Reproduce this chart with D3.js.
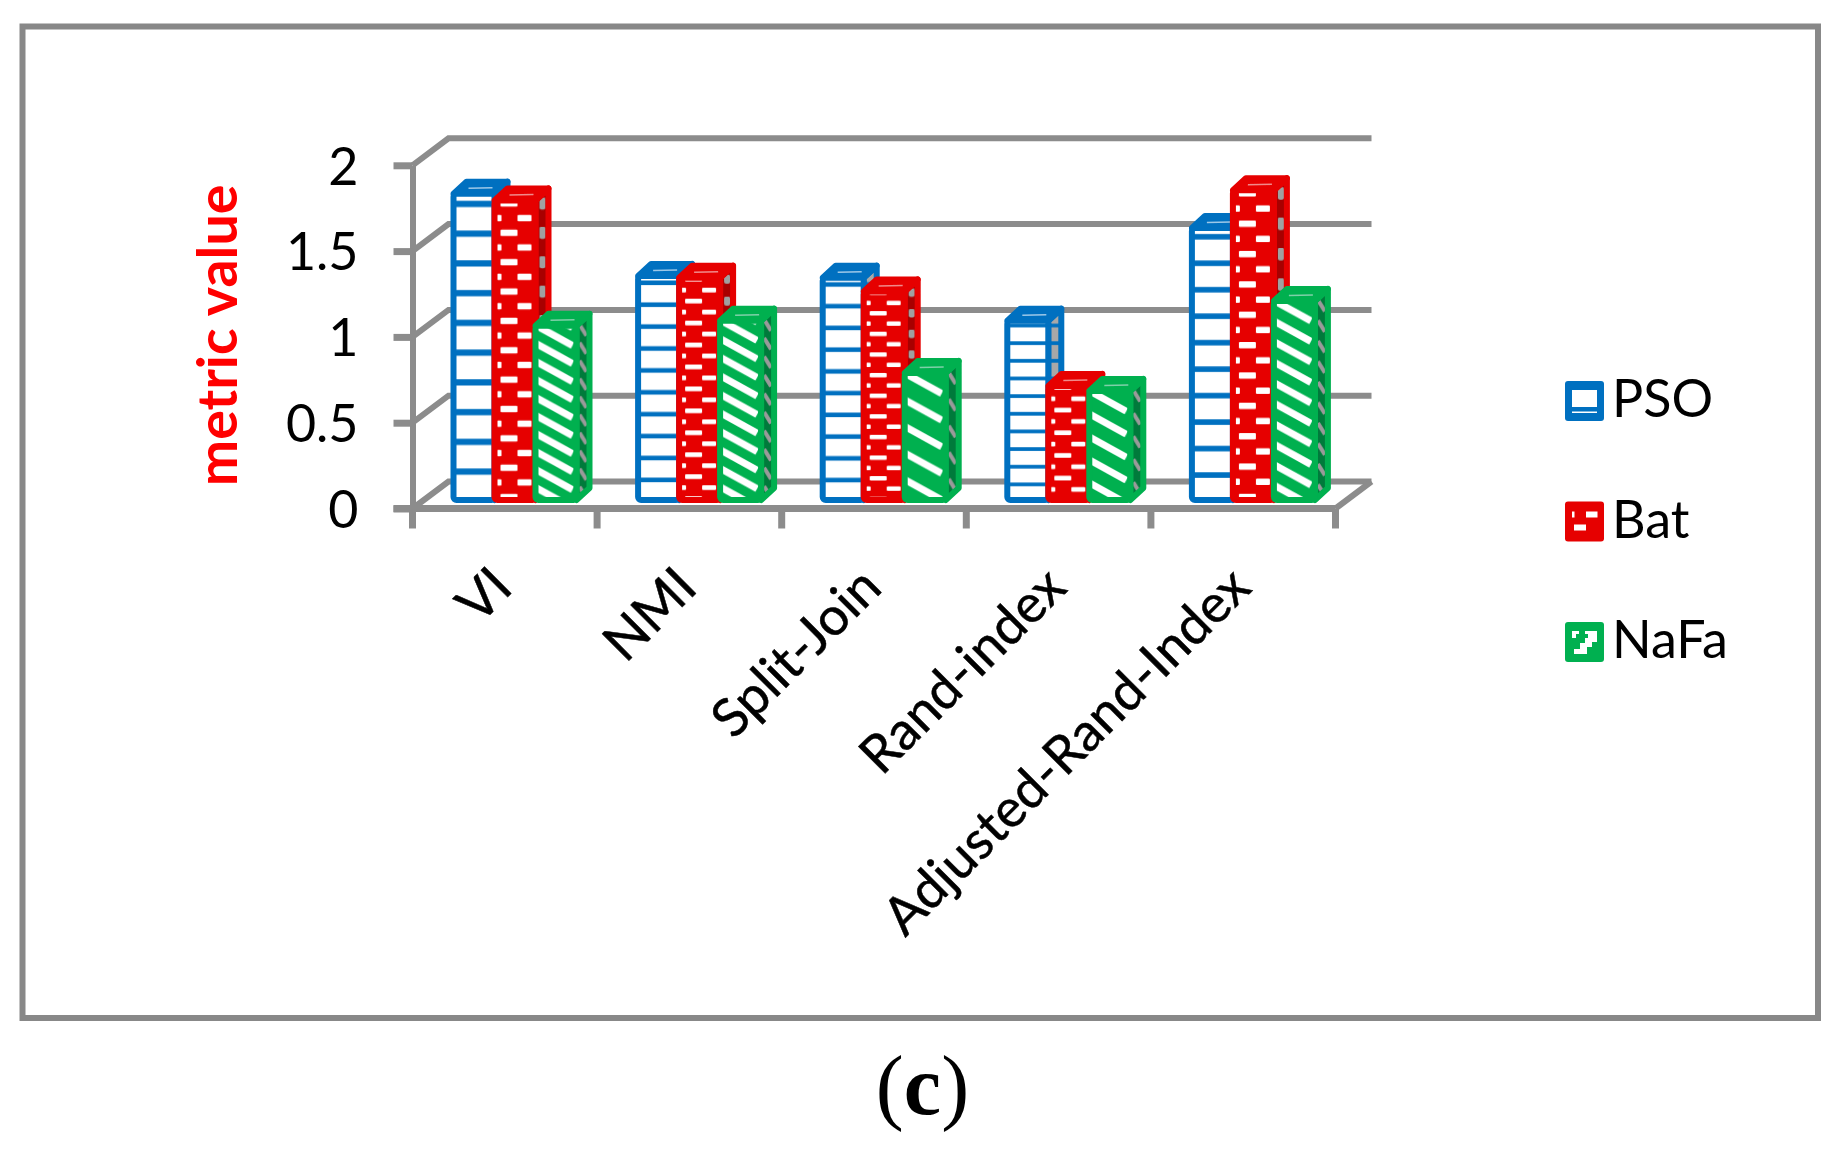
<!DOCTYPE html>
<html><head><meta charset="utf-8">
<script src="https://cdn.jsdelivr.net/npm/d3@7"></script>
<style>html,body{margin:0;padding:0;background:#fff}svg{display:block}</style>
</head><body><svg id="c" width="1841" height="1154"></svg>
<script>
const categories = ["VI","NMI","Split-Join","Rand-index","Adjusted-Rand-Index"];
const psoValues  = [1.82,1.34,1.33,1.08,1.62];
const batValues  = [1.78,1.33,1.25,0.70,1.84];
const nafaValues = [1.05,1.08,0.775,0.67,1.195];
const seriesNames = ["PSO","Bat","NaFa"];
const yTicks = [0,0.5,1,1.5,2];
const yAxisTitle = "metric value";
const panelLabel = "c";

const BLUE="#0070c0",RED="#e60000",GREEN="#00b050",GRID="#8c8c8c";
const FONT="Lato, Carlito, 'Open Sans', sans-serif";
const svg=d3.select("#c");
const defs=svg.append("defs");
defs.append("filter").attr("id","soft").attr("x","-5%").attr("y","-5%").attr("width","110%").attr("height","110%")
  .append("feGaussianBlur").attr("stdDeviation",0.6);

svg.append("rect").attr("x",22.5).attr("y",26.5).attr("width",1795.5).attr("height",991.5)
  .attr("fill","#fff").attr("stroke","#888").attr("stroke-width",6);

const y=d3.scaleLinear().domain([0,2]).range([508.5,165.3]);
const x=d3.scaleBand().domain(categories).range([412.5,1335.5]);
const seriesX=d3.scaleBand().domain(seriesNames).range([38,38+41*3]);
const wallDx=36,wallDy=27,barLift=5.5,depthX=13,depthY=12,frontW=47,sw=6;

const plot=svg.append("g").attr("filter","url(#soft)");
// back wall grid
const grid=plot.append("g").attr("stroke",GRID).attr("stroke-width",6).attr("fill","none");
yTicks.forEach(t=>{
  grid.append("path").attr("d",d3.line()([[x.range()[0],y(t)],[x.range()[0]+wallDx,y(t)-wallDy],[x.range()[1]+wallDx,y(t)-wallDy]]));
});
grid.append("path").attr("d",d3.line()([[x.range()[1],y(0)],[x.range()[1]+wallDx,y(0)-wallDy]]));

// axes
const yAxis=plot.append("g").attr("transform",`translate(${x.range()[0]},0)`)
  .call(d3.axisLeft(y).tickValues(yTicks).tickFormat(d3.format("~g")).tickSizeInner(19).tickSizeOuter(0).tickPadding(38));
yAxis.select(".domain").attr("stroke",GRID).attr("stroke-width",6);
yAxis.selectAll(".tick line").attr("stroke",GRID).attr("stroke-width",7);
yAxis.selectAll("text").remove();
const xBase=plot.append("g");
xBase.append("path").attr("d",d3.line()([[x.range()[0]-19,y(0)],[x.range()[1],y(0)]])).attr("stroke",GRID).attr("stroke-width",7);
categories.forEach(c=>{
  [x(c)].concat(c===categories[categories.length-1]?[x(c)+x.bandwidth()]:[]).forEach(px=>{
    xBase.append("path").attr("d",d3.line()([[px,y(0)],[px,y(0)+20]])).attr("stroke",GRID).attr("stroke-width",7);
  });
});

// bar patterns
function tile(id,kind,x0,y0,p,w,side){
  const pat=defs.append("pattern").attr("id",id).attr("patternUnits","userSpaceOnUse")
    .attr("x",x0).attr("y",y0).attr("width",w).attr("height",p);
  if(kind==="PSO"){
    pat.append("rect").attr("width",w).attr("height",p).attr("fill",side?"#a8a8a8":"#fff");
    pat.append("rect").attr("y",0.34*p).attr("width",w).attr("height",0.21*p).attr("fill",BLUE);
  } else if(kind==="Bat"){
    pat.append("rect").attr("width",w).attr("height",p).attr("fill",side?"#a80000":RED);
    const h=0.21*p,c=side?"#a0a0a0":"#fff";
    if(side){
      pat.append("rect").attr("x",4).attr("y",0.2*p-h).attr("width",6).attr("height",h*2).attr("rx",2).attr("fill",c);
    } else {
      pat.append("rect").attr("x",9).attr("y",0.2*p-h/2).attr("width",17).attr("height",h).attr("rx",1).attr("fill",c);
      pat.append("rect").attr("x",26).attr("y",0.7*p-h/2).attr("width",14).attr("height",h).attr("rx",1).attr("fill",c);
      pat.append("rect").attr("x",5).attr("y",0.7*p-h/2).attr("width",5).attr("height",h).attr("rx",1).attr("fill",c);
    }
  } else {
    pat.append("rect").attr("width",w).attr("height",p).attr("fill",side?"#007a3a":GREEN);
    const slope=side?1.6:0.55,c=side?"#9a9a9a":"#fff",sw2=side?4:7;
    const n=Math.ceil(slope*w/p)+1;
    for(let k=-n;k<=n;k++){
      pat.append("line").attr("x1",side?3:2).attr("x2",side?w-3:w-7)
        .attr("y1",k*p+0.1*p).attr("y2",k*p+0.1*p+slope*(side?w-6:w-9))
        .attr("stroke",c).attr("stroke-width",sw2);
    }
  }
}
const seriesData=[["PSO",psoValues,BLUE],["Bat",batValues,RED],["NaFa",nafaValues,GREEN]];
const bars=plot.append("g");
categories.forEach((cat,ci)=>{
  seriesData.forEach(([name,vals,col])=>{
    const v=vals[ci];
    const xs=x(cat)+seriesX(name);
    const yT=y(v)-barLift, yB=y(0)-barLift;
    const h=yB-yT;
    const count=name==="PSO"?10.5:name==="Bat"?(h>150?10.4:5.3):(h>150?10:5);
    const p=h/count;
    const l=xs+sw/2,r=xs+frontW-sw/2,t=yT+sw/2,b=yB-sw/2;
    const fid=`f${ci}${name}`,sid=`s${ci}${name}`;
    tile(fid,name,xs,yT,p,frontW,false);
    tile(sid,name,r,yT,p,depthX,true);
    const g=bars.append("g").attr("stroke",col).attr("stroke-width",sw).attr("stroke-linejoin","round");
    g.append("polygon").attr("points",[[r,t],[r+depthX,t-depthY],[r+depthX,b-depthY],[r,b]].join(" ")).attr("fill",`url(#${sid})`);
    g.append("polygon").attr("points",[[l,t],[l+depthX,t-depthY],[r+depthX,t-depthY],[r,t]].join(" ")).attr("fill",col);
    g.append("path").attr("d",d3.line()([[l+15,t-5.5],[r-2,t-6]])).attr("stroke",name==="PSO"?"#9cc8e8":name==="Bat"?"#f08a8a":"#7fd0a8").attr("stroke-width",1.5);
    g.append("rect").attr("x",l).attr("y",t).attr("width",r-l).attr("height",b-t).attr("rx",3).attr("fill",`url(#${fid})`);
  });
});

// text
const yLab=svg.append("g").attr("transform",`translate(${x.range()[0]},0)`)
  .call(d3.axisLeft(y).tickValues(yTicks).tickFormat(d3.format("~g")).tickSize(0).tickPadding(54));
yLab.select(".domain").remove();
yLab.selectAll("text").attr("font-family",FONT).attr("font-size",52).attr("fill","#000").attr("dy","0.36em");

const xLab=svg.append("g");
categories.forEach(c=>{
  const cx=x(c)+x.bandwidth()/2+10;
  xLab.append("text").text(c).attr("text-anchor","end").attr("font-family",FONT).attr("font-size",53).attr("fill","#000")
    .attr("stroke","#000").attr("stroke-width",0.5)
    .attr("transform",`translate(${cx},590) rotate(-45)`);
});
svg.append("text").text(yAxisTitle).attr("text-anchor","middle").attr("font-family",FONT).attr("font-weight",700)
  .attr("font-size",55.5).attr("fill","#ff0000").attr("transform","translate(237,335.5) rotate(-90)");

// legend
const legY=d3.scaleBand().domain(seriesNames).range([381,381+120.5*3]);
const leg=svg.append("g");
seriesData.forEach(([name,,col])=>{
  const yy=legY(name);
  const g=leg.append("g").attr("transform",`translate(1565,${yy})`);
  g.append("rect").attr("width",39).attr("height",40).attr("rx",3).attr("fill",col);
  const wh=(a,b,c,d)=>g.append("rect").attr("x",a).attr("y",b).attr("width",c).attr("height",d).attr("fill","#fff");
  if(name==="PSO"){wh(7,9,25,17);wh(7,30.5,25,1.5);}
  if(name==="Bat"){wh(7,10,2.5,6);wh(21,10,11.5,6);wh(9,23,12,6);}
  if(name==="NaFa"){
    g.append("path").attr("fill","#fff").attr("d","M7 9H14V12H11V16H7ZM20 9H32V20H27V25H22V32H9V27H15V21H20V16H23V12H20Z");
  }
  leg.append("text").text(name).attr("x",1612).attr("y",yy+36).attr("font-family",FONT).attr("font-size",52).attr("fill","#000");
});

// panel label
const pl=svg.append("text").attr("x",922.5).attr("y",1114).attr("text-anchor","middle")
  .attr("font-family","'Liberation Serif',serif").attr("font-size",84).attr("fill","#000");
pl.append("tspan").text("(");
pl.append("tspan").attr("font-weight",700).text(panelLabel);
pl.append("tspan").text(")");
</script></body></html>
